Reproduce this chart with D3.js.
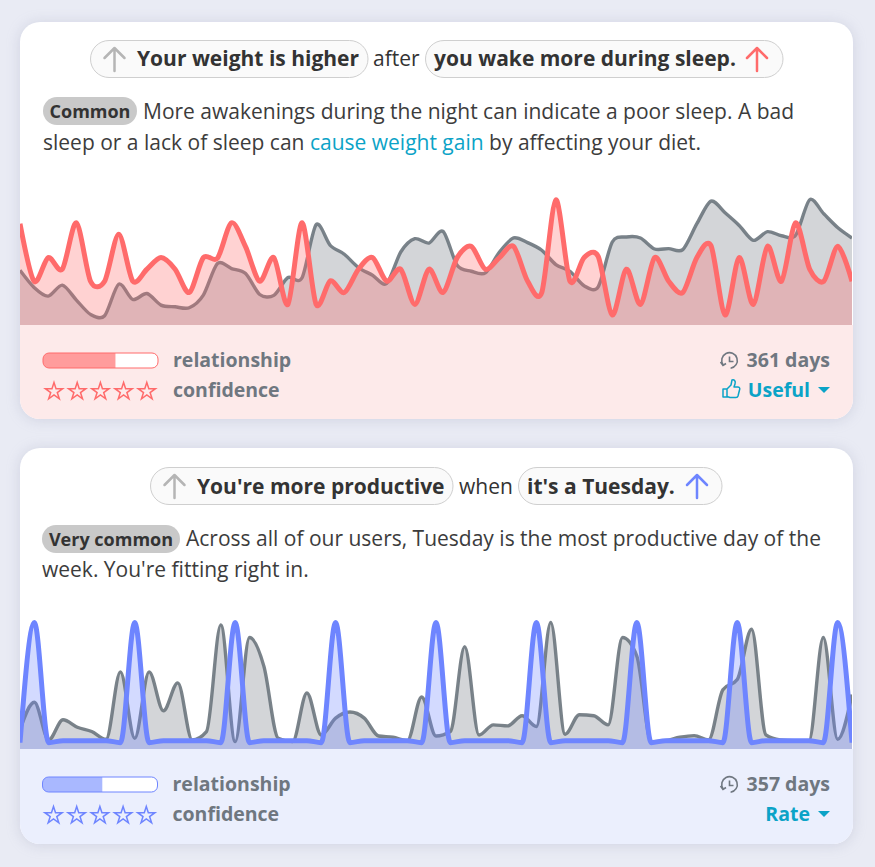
<!DOCTYPE html>
<html lang="en">
<head>
<meta charset="UTF-8">
<title>Insights</title>
<script src="https://d3js.org/d3.v7.min.js"></script>
<style>
    html, body { margin: 0; padding: 0; background: #e9ebf4; overflow: hidden; }
    svg { display: block; font-family: "Open Sans", sans-serif; }
    .card { filter: drop-shadow(0 1px 7px rgba(120, 125, 160, 0.22)); }
    .title { font-size: 21px; fill: #333; }
    .body { font-size: 21px; fill: #3c3c3c; }
    .tag { font-size: 18px; font-weight: 700; fill: #333; }
    .meta { font-size: 19.5px; font-weight: 700; fill: #6f7780; }
    .action { font-size: 19.5px; font-weight: 700; fill: #0ba3c7; }
</style>
</head>
<body>
<div id="page"></div>
<script>
    // first card, weight vs awakenings
    var weightValues = [43.3,29.7,22.8,31.5,19.7,8.4,7.3,32.3,20.2,24.9,15.7,14.4,13.6,23.6,48.6,44.6,40.7,24.1,23.4,37.5,37.3,79.3,63,55.9,45.4,39.4,32.8,57.7,68.2,64.8,74,47.2,42.5,41.2,57.7,68.8,65.1,59.1,47.8,42.5,31,30.2,65.6,69.6,68.8,60.1,60.4,59.6,80.1,97.9,88.7,78.7,66.9,73.8,70.6,70.9,99,87.9,76.9,68.8];
    var awakeValues = [80.1,34.6,53.3,44.1,80.8,34.6,34.6,71.7,34.6,44.1,53.3,44.1,25.7,53.3,52.8,80.8,61.7,34.6,53.3,16.3,80.8,16.3,34.9,25.7,44.1,53.3,34.6,44.1,16.3,44.1,25.7,53.3,62.2,44.1,53.3,62.2,34.6,25.7,99,34.6,53.3,54.3,7.9,44.1,16.3,53.3,34.6,25.7,53.3,62.7,7.9,53.3,16.3,62.2,34.6,80.8,44.1,34.6,62.2,34.6];

    // second card, productivity vs tuesdays
    var productiveValues = [15.1,36.9,7.2,23.1,17.2,13.8,7.7,61,8.5,61,30.2,52.3,7.2,13.8,98.1,5.8,88.1,65.5,8.5,5.8,44.3,11.1,24.4,29.2,24.4,10.3,9.3,6.6,41.1,10.3,13.8,80.9,11.1,19.1,18.3,26.3,17.8,100,11.7,27.1,26.3,19.1,88.1,73.5,5.8,6.6,9.3,10.6,7.2,46.9,54.9,94.7,11.1,7.2,6.6,6.6,88.1,7.7,43];
    var tuesdayValues = [5,100,5,6.6,6.6,6.6,6.6,5,100,5,6.6,6.6,6.6,6.6,5,100,5,6.6,6.6,6.6,6.6,5,100,5,6.6,6.6,6.6,6.6,5,100,5,6.6,6.6,6.6,6.6,5,100,5,6.6,6.6,6.6,6.6,5,100,5,6.6,6.6,6.6,6.6,5,100,5,6.6,6.6,6.6,6.6,5,100,5];

    var relationshipValues = [0.63, 0.52];
    var confidenceStars = [0, 1, 2, 3, 4];

    var gray = "#6c757d";
    var red = "#ff6b6b";
    var blue = "#6e85ff";

    var svg = d3.select("#page").append("svg").attr("width", 875).attr("height", 867);
    var defs = svg.append("defs");

    drawCard({
        id: 0, top: 22, height: 397, chartBottom: 325, left: 20, curve: d3.curveCardinal.tension(0.15),
        color: red, footer: "#fdeaea", barFill: "#ff9c9c", barLeft: 43,
        gray: weightValues, main: awakeValues, days: "361 days", action: "Useful", thumb: true
    });
    drawCard({
        id: 1, top: 448, height: 396, chartBottom: 749, left: 20, curve: d3.curveMonotoneX,
        color: blue, footer: "#ebeffd", barFill: "#a9b8ff", barLeft: 42.5,
        gray: productiveValues, main: tuesdayValues, days: "357 days", action: "Rate", thumb: false
    });

    drawHeader(0, 59, 66, 90, 277.5, "Your weight is higher", 137, "after", 373, 425, 357.5, "you wake more during sleep.", 434, 757, red);
    drawHeader(1, 486, 494, 150, 302.5, "You're more productive", 197, "when", 459, 518, 203.5, "it's a Tuesday.", 527, 697, blue);

    drawBody(97, 43, 94, "Common", 119, 143,
        [[{t: "More awakenings during the night can indicate a poor sleep. A bad"}],
         [{t: "sleep or a lack of sleep can "}, {t: "cause weight gain", link: true}, {t: " by affecting your diet."}]], 150);
    drawBody(525, 42, 138, "Very common", 546, 186,
        [[{t: "Across all of our users, Tuesday is the most productive day of the"}],
         [{t: "week. You're fitting right in."}]], 577);

    function drawCard(c) {
        var g = svg.append("g");
        var clipId = "clip" + c.id;
        defs.append("clipPath").attr("id", clipId).append("rect")
            .attr("x", c.left).attr("y", c.top).attr("width", 833).attr("height", c.height).attr("rx", 20);

        g.append("rect").attr("class", "card").attr("x", c.left).attr("y", c.top)
            .attr("width", 833).attr("height", c.height).attr("rx", 20).attr("fill", "#fff");

        var inner = g.append("g").attr("clip-path", "url(#" + clipId + ")");
        inner.append("rect").attr("x", c.left).attr("y", c.chartBottom).attr("width", 833)
            .attr("height", c.top + c.height - c.chartBottom).attr("fill", c.footer);

        var chartId = "chart" + c.id;
        defs.append("clipPath").attr("id", chartId).append("rect")
            .attr("x", c.left).attr("y", c.chartBottom - 140).attr("width", 832).attr("height", 140);

        var x = d3.scaleLinear().domain([0, c.main.length - 1]).range([c.left, c.left + 832]);
        var y = d3.scaleLinear().domain([0, 100]).range([c.chartBottom, c.chartBottom - 126.5]);
        var area = d3.area().x(function(d, i) { return x(i); }).y0(c.chartBottom).y1(function(d) { return y(d); }).curve(c.curve);
        var line = d3.line().x(function(d, i) { return x(i); }).y(function(d) { return y(d); }).curve(c.curve);

        var plot = inner.append("g").attr("clip-path", "url(#" + chartId + ")");
        plot.append("path").datum(c.gray).attr("d", area).attr("fill", gray).attr("fill-opacity", 0.3);
        plot.append("path").datum(c.gray).attr("d", line).attr("fill", "none").attr("stroke", gray).attr("stroke-opacity", 0.9).attr("stroke-width", 3.4);
        plot.append("path").datum(c.main).attr("d", area).attr("fill", c.color).attr("fill-opacity", 0.3);
        plot.append("path").datum(c.main).attr("d", line).attr("fill", "none").attr("stroke", c.color).attr("stroke-width", 5);

        // footer
        var row1 = c.chartBottom + 35, row2 = c.chartBottom + 65;
        var barScale = d3.scaleLinear().domain([0, 1]).range([0, 115]);
        defs.append("clipPath").attr("id", "bar" + c.id).append("rect")
            .attr("x", c.barLeft).attr("y", c.chartBottom + 28).attr("width", 115).attr("height", 15).attr("rx", 6);
        g.append("rect").attr("x", c.barLeft).attr("y", c.chartBottom + 28).attr("width", 115).attr("height", 15).attr("rx", 6).attr("fill", "#fff");
        g.append("rect").attr("x", c.barLeft).attr("y", c.chartBottom + 28)
            .attr("width", barScale(relationshipValues[c.id])).attr("height", 15)
            .attr("fill", c.barFill).attr("clip-path", "url(#bar" + c.id + ")");
        g.append("rect").attr("x", c.barLeft).attr("y", c.chartBottom + 28).attr("width", 115).attr("height", 15).attr("rx", 6)
            .attr("fill", "none").attr("stroke", c.color).attr("stroke-width", 1);

        var star = d3.symbol().type(d3.symbolStar).size(92);
        g.selectAll(".star").data(confidenceStars).enter().append("path")
            .attr("d", star)
            .attr("transform", function(d) { return "translate(" + (c.barLeft + 11 + d * 23.2) + "," + (row2 + 1.5) + ")"; })
            .attr("fill", "none").attr("stroke", c.color).attr("stroke-width", 1.5).attr("stroke-linejoin", "miter");

        g.append("text").attr("class", "meta").attr("x", c.barLeft + 130).attr("y", row1 + 7).text("relationship");
        g.append("text").attr("class", "meta").attr("x", c.barLeft + 130).attr("y", row2 + 7).text("confidence");

        g.append("text").attr("class", "meta").attr("x", 830).attr("y", row1 + 7).attr("text-anchor", "end").text(c.days);

        // little clock
        var cl = g.append("g").attr("transform", "translate(729.500," + (row1 + .5) + ")")
            .attr("fill", "none").attr("stroke", "#6f7780").attr("stroke-width", 1.6);
        cl.append("path").attr("d", d3.arc()({innerRadius: 7.8, outerRadius: 7.8, startAngle: -2.2, endAngle: 3.0}));
        cl.append("path").attr("d", "M0,-4V1H4");
        cl.append("path").attr("d", "M-9,1.500L-6.500,5L-3.500,3");

        g.append("text").attr("class", "action").attr("x", 810).attr("y", row2 + 7).attr("text-anchor", "end").text(c.action);
        g.append("path").attr("d", "M818,387h12l-6,6z").attr("transform", "translate(0," + (row2 - 390) + ")").attr("fill", "#0ba3c7");

        if (c.thumb) {
            g.append("path")
                .attr("d", "M723,389v8h4v-8zM727,389l4,-4l1,-5c2,-1 4,1 3,4l-1,3h4c2,0 2,2 1.500,3l-1.500,6c-.3,1 -1,1.500 -2,1.500h-6l-3,-1")
                .attr("fill", "none").attr("stroke", "#0ba3c7").attr("stroke-width", 1.5).attr("stroke-linejoin", "round");
        }
    }

    function arrow(cx, cy, color) {
        svg.append("path").attr("d", "M" + cx + "," + (cy + 12) + "V" + (cy - 11) + "M" + (cx - 10) + "," + (cy - 1) + "L" + cx + "," + (cy - 11) + "L" + (cx + 10) + "," + (cy - 1))
            .attr("fill", "none").attr("stroke", color).attr("stroke-width", 2.5).attr("stroke-linecap", "round").attr("stroke-linejoin", "round");
    }

    function drawHeader(id, cy, base, x1, w1, t1, tx1, word, wx, x2, w2, t2, tx2, ax2, color) {
        [[x1, w1], [x2, w2]].forEach(function(p) {
            svg.append("rect").attr("x", p[0] + .5).attr("y", cy - 19 + .5).attr("width", p[1]).attr("height", 37).attr("rx", 18.5)
                .attr("fill", "#fafafa").attr("stroke", "#cfcfcf");
        });
        arrow(x1 + 24.5, cy, "#b5b5b5");
        arrow(ax2, cy, color);
        svg.append("text").attr("class", "title").attr("font-weight", 700).attr("x", tx1).attr("y", base).text(t1);
        svg.append("text").attr("class", "title").attr("x", wx).attr("y", base).text(word);
        svg.append("text").attr("class", "title").attr("font-weight", 700).attr("x", tx2).attr("y", base).text(t2);
    }

    function drawBody(tagTop, tagX, tagW, tag, line1, textX, lines, line2) {
        svg.append("rect").attr("x", tagX).attr("y", tagTop).attr("width", tagW).attr("height", 28).attr("rx", 14).attr("fill", "#c9c9c9");
        svg.append("text").attr("class", "tag").attr("x", tagX + tagW / 2).attr("y", tagTop + 21).attr("text-anchor", "middle").text(tag);
        lines.forEach(function(parts, i) {
            var t = svg.append("text").attr("class", "body").attr("x", i ? tagX : textX).attr("y", i ? line2 : line1).attr("xml:space", "preserve");
            parts.forEach(function(p) {
                t.append("tspan").text(p.t).style("white-space", "pre").style("fill", p.link ? "#0ba3c7" : null);
            });
        });
    }
</script>
</body>
</html>
